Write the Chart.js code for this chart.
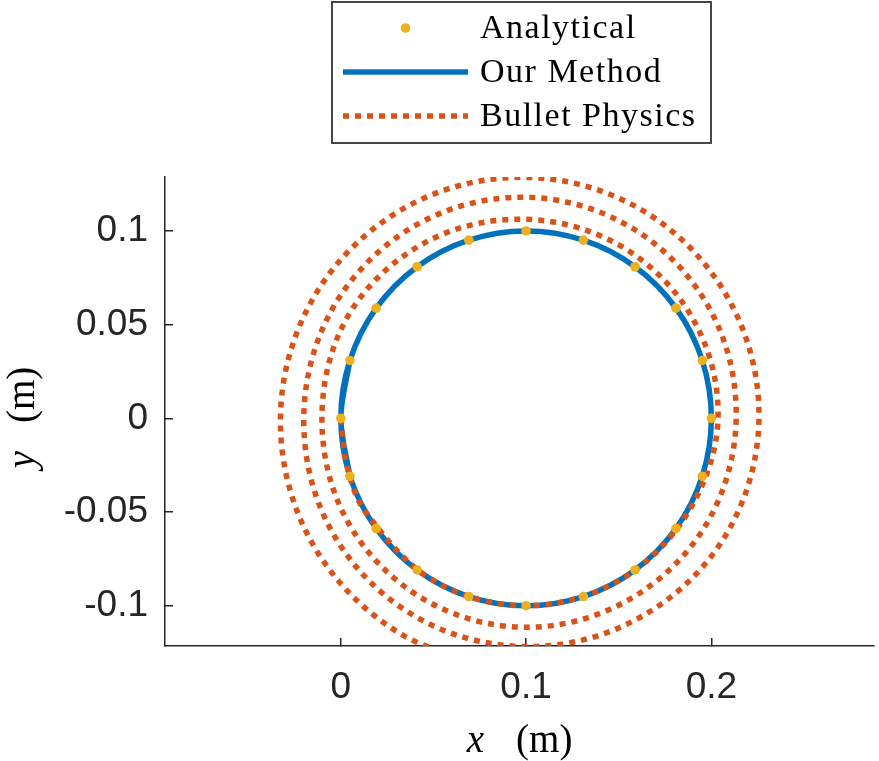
<!DOCTYPE html>
<html>
<head>
<meta charset="utf-8">
<script src="https://cdn.jsdelivr.net/npm/chart.js@4.4.0/dist/chart.umd.min.js"></script>
<style>
  html, body { margin: 0; padding: 0; background: #ffffff; }
  #wrap { width: 879px; height: 761px; }
</style>
</head>
<body>
<div id="wrap"><canvas id="orbit" width="879" height="761"></canvas></div>
<script>
// values (metres)

const analyticalX = [0.2, 0.1951, 0.1809, 0.1588, 0.1309, 0.1, 0.0691, 0.0412, 0.0191, 0.0049,
                     0, 0.0049, 0.0191, 0.0412, 0.0691, 0.1, 0.1309, 0.1588, 0.1809, 0.1951];
const analyticalY = [0, 0.0309, 0.0588, 0.0809, 0.0951, 0.1, 0.0951, 0.0809, 0.0588, 0.0309,
                     0, -0.0309, -0.0588, -0.0809, -0.0951, -0.1, -0.0951, -0.0809, -0.0588, -0.0309];

// our method: one closed loop through the origin (ends overlap a little so the join is round)
const methodX = [0.0049, 0, 0.0049, 0.0191, 0.0412, 0.0691, 0.1, 0.1309, 0.1588, 0.1809, 0.1951, 0.2,
                 0.1951, 0.1809, 0.1588, 0.1309, 0.1, 0.0691, 0.0412, 0.0191, 0.0049, 0, 0.0049];
const methodY = [0.0309, 0, -0.0309, -0.0588, -0.0809, -0.0951, -0.1, -0.0951, -0.0809, -0.0588, -0.0309, 0,
                 0.0309, 0.0588, 0.0809, 0.0951, 0.1, 0.0951, 0.0809, 0.0588, 0.0309, 0, -0.0309];

// bullet physics: drifts outward, about 3.5 turns
const bulletX = [0, 0.0034, 0.0134, 0.05, 0.1, 0.15, 0.1873, 0.2036, 0.1905, 0.1526, 0.1,
                 0.0458, 0.0043, -0.0102, 0.0039, 0.0444, 0.1, 0.1558, 0.1974, 0.2134, 0.1996,
                 0.1583, 0.1, 0.0405, -0.0037, -0.0200, -0.0048, 0.0393, 0.1, 0.1614, 0.2078,
                 0.2257, 0.2095, 0.1638, 0.1, 0.0350, -0.0139, -0.0326, -0.0154, 0.0333, 0.1];
const bulletY = [0, -0.0259, -0.05, -0.0866, -0.1, -0.0866, -0.0504, 0, 0.0523, 0.0911, 0.1062,
                 0.0940, 0.0553, 0, -0.0555, -0.0963, -0.1115, -0.0966, -0.0563, 0, 0.0575,
                 0.1009, 0.1180, 0.1031, 0.0599, 0, -0.0605, -0.1052, -0.1218, -0.1063, -0.0623,
                 0, 0.0633, 0.1104, 0.1286, 0.1126, 0.0658, 0, -0.0667, -0.1156, -0.1338];

const xTicks = [0, 0.1, 0.2];
const xTickLabels = ['0', '0.1', '0.2'];
const yTicks = [-0.1, -0.05, 0, 0.05, 0.1];
const yTickLabels = ['-0.1', '-0.05', '0', '0.05', '0.1'];

const toPoints = (xs, ys) => xs.map((x, i) => ({ x: x, y: ys[i] }));

const axisColor = '#262626';
const tickFont = { family: '"Liberation Sans", Arial, sans-serif', size: 37 };

// legend in a box, stacked like matlab's
const boxLegend = {
  id: 'boxLegend',
  afterDraw(chart) {
    const ctx = chart.ctx;
    const rows = [28, 72, 116];
    ctx.save();
    ctx.fillStyle = '#ffffff';
    ctx.fillRect(332, 2, 379, 141);
    ctx.strokeStyle = '#333333';
    ctx.lineWidth = 1.8;
    ctx.strokeRect(332, 2, 379, 141);
    chart.data.datasets.forEach((ds, i) => {
      const y = rows[i];
      if (ds.showLine) {
        ctx.beginPath();
        ctx.strokeStyle = ds.borderColor;
        ctx.lineWidth = ds.borderWidth;
        ctx.lineCap = 'butt';
        ctx.setLineDash(ds.borderDash || []);
        ctx.moveTo(343, y);
        ctx.lineTo(468, y);
        ctx.stroke();
        ctx.setLineDash([]);
      } else {
        ctx.beginPath();
        ctx.fillStyle = ds.pointBackgroundColor;
        ctx.arc(405.5, y, ds.pointRadius, 0, Math.PI * 2);
        ctx.fill();
      }
      ctx.fillStyle = '#000000';
      ctx.font = '34px "Liberation Serif", serif';
      ctx.letterSpacing = '1.5px';
      ctx.textAlign = 'left';
      ctx.textBaseline = 'alphabetic';
      ctx.fillText(ds.label, 480, y + 9.5);
    });
    ctx.restore();
  }
};

// axis titles: italic variable, upright unit
const drawTitle = (ctx, symbol, unit, gap) => {
  ctx.font = 'italic 39px "Liberation Serif", serif';
  const w1 = ctx.measureText(symbol).width;
  ctx.font = '39px "Liberation Serif", serif';
  const w2 = ctx.measureText(unit).width;
  const start = -(w1 + gap + w2) / 2;
  ctx.font = 'italic 39px "Liberation Serif", serif';
  ctx.fillText(symbol, start, 0);
  ctx.font = '39px "Liberation Serif", serif';
  ctx.fillText(unit, start + w1 + gap, 0);
};

const axisTitles = {
  id: 'axisTitles',
  afterDraw(chart) {
    const ctx = chart.ctx;
    const area = chart.chartArea;
    ctx.save();
    ctx.fillStyle = '#000000';
    ctx.textAlign = 'left';
    ctx.textBaseline = 'alphabetic';
    ctx.translate((area.left + area.right) / 2, 752);
    drawTitle(ctx, 'x', '(m)', 32);
    ctx.restore();

    ctx.save();
    ctx.fillStyle = '#000000';
    ctx.textAlign = 'left';
    ctx.textBaseline = 'alphabetic';
    ctx.translate(34, (area.top + area.bottom) / 2 + 6);
    ctx.rotate(-Math.PI / 2);
    drawTitle(ctx, 'y', '(m)', 28);
    ctx.restore();
  }
};

const ctx = document.getElementById('orbit').getContext('2d');

new Chart(ctx, {
  type: 'scatter',
  data: {
    datasets: [
      {
        label: 'Analytical',
        data: toPoints(analyticalX, analyticalY),
        showLine: false,
        pointRadius: 4.8,
        pointBackgroundColor: '#EDB120',
        pointBorderColor: '#EDB120',
        pointBorderWidth: 0,
        order: 0
      },
      {
        label: 'Our Method',
        data: toPoints(methodX, methodY),
        showLine: true,
        borderColor: '#0072BD',
        borderWidth: 5.5,
        pointRadius: 0,
        tension: 0.34,
        order: 2
      },
      {
        label: 'Bullet Physics',
        data: toPoints(bulletX, bulletY),
        showLine: true,
        borderColor: '#D95319',
        borderWidth: 5.5,
        borderDash: [6, 6],
        pointRadius: 0,
        tension: 0.35,
        order: 1
      }
    ]
  },
  options: {
    responsive: false,
    animation: false,
    events: [],
    layout: { padding: { top: 177, left: 0, right: 0, bottom: 0 } },
    elements: { line: { capBezierPoints: false, borderCapStyle: 'butt' } },
    plugins: {
      legend: { display: false },
      tooltip: { enabled: false }
    },
    scales: {
      x: {
        type: 'linear',
        min: -0.0949,
        max: 0.2879,
        afterFit: scale => { scale.height = 115; },
        afterBuildTicks: scale => { scale.ticks = xTicks.map(v => ({ value: v })); },
        ticks: {
          callback: (v, i) => xTickLabels[i],
          font: tickFont,
          color: axisColor,
          padding: 28,
          maxRotation: 0,
          autoSkip: false
        },
        grid: { drawOnChartArea: false, tickLength: -8, color: axisColor, lineWidth: 1.5 },
        border: { color: axisColor, width: 1.5 }
      },
      y: {
        type: 'linear',
        min: -0.1215,
        max: 0.1288,
        afterFit: scale => { scale.width = 165; },
        afterBuildTicks: scale => { scale.ticks = yTicks.map(v => ({ value: v })); },
        ticks: {
          callback: (v, i) => yTickLabels[i],
          font: tickFont,
          color: axisColor,
          padding: 25,
          autoSkip: false
        },
        grid: { drawOnChartArea: false, tickLength: -8, color: axisColor, lineWidth: 1.5 },
        border: { color: axisColor, width: 1.5 }
      }
    }
  },
  plugins: [boxLegend, axisTitles]
});
</script>
</body>
</html>
